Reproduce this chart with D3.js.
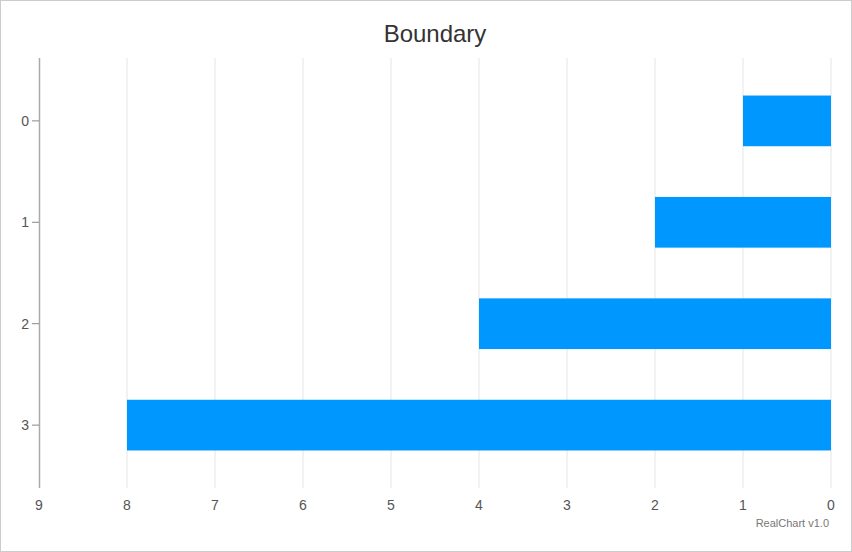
<!DOCTYPE html>
<html>
<head>
<meta charset="utf-8">
<script src="https://cdn.jsdelivr.net/npm/d3@7"></script>
<style>
  body { margin: 0; background: #fff; }
  svg { font-family: "Liberation Sans", Arial, sans-serif; }
</style>
</head>
<body>
<svg id="chart" width="852" height="552"></svg>
<script>
const categories = ["0", "1", "2", "3"];
const values = [1, 2, 4, 8];
const xTicks = [0, 1, 2, 3, 4, 5, 6, 7, 8, 9];

const svg = d3.select("#chart");
const margin = {top: 58, right: 21, bottom: 64, left: 39},
      width = 852 - margin.left - margin.right,
      height = 552 - margin.top - margin.bottom;

svg.append("rect")
    .attr("x", 0.5).attr("y", 0.5)
    .attr("width", 851).attr("height", 551)
    .attr("fill", "#fff").attr("stroke", "#ccc");

svg.append("text")
    .attr("x", 435).attr("y", 42)
    .attr("text-anchor", "middle")
    .attr("font-size", 24)
    .attr("fill", "#333")
    .text("Boundary");

const g = svg.append("g")
    .attr("transform", `translate(${margin.left},${margin.top})`);

// reversed value axis: 9 on the left, 0 on the right
let x = d3.scaleLinear().domain([9, 0]).range([0, width]);
let y = d3.scaleBand().domain(categories).range([0, height])
    .paddingInner(0.5).paddingOuter(0.37);

// grid
g.selectAll(".grid")
  .data(xTicks.filter(d => d !== 9))
  .enter().append("line")
    .attr("x1", d => x(d)).attr("x2", d => x(d))
    .attr("y1", 0).attr("y2", height)
    .attr("stroke", "#e5e5e5");

// bars
g.selectAll(".bar")
  .data(values)
  .enter().append("rect")
    .attr("x", d => x(d))
    .attr("y", (d, i) => y(categories[i]))
    .attr("width", d => x(0) - x(d))
    .attr("height", y.bandwidth())
    .attr("fill", "#0098ff");

// x axis labels
g.selectAll(".xl")
  .data(xTicks)
  .enter().append("text")
    .attr("x", d => x(d))
    .attr("y", height + 22)
    .attr("text-anchor", "middle")
    .attr("font-size", 14)
    .attr("fill", "#555")
    .text(d => d);

// y axis
g.append("line")
    .attr("x1", 0.5).attr("x2", 0.5)
    .attr("y1", 0).attr("y2", height)
    .attr("stroke", "#aaa").attr("stroke-width", 1.5);

const yAx = g.selectAll(".yt")
  .data(categories)
  .enter().append("g")
    .attr("transform", d => `translate(0,${y(d) + y.bandwidth() / 2})`);
yAx.append("line")
    .attr("x1", -7).attr("x2", 0)
    .attr("stroke", "#888");
yAx.append("text")
    .attr("x", -10).attr("dy", "0.35em")
    .attr("text-anchor", "end")
    .attr("font-size", 14)
    .attr("fill", "#555")
    .text(d => d);

svg.append("text")
    .attr("x", 829).attr("y", 527)
    .attr("text-anchor", "end")
    .attr("font-size", 11)
    .attr("fill", "#777")
    .text("RealChart v1.0");
</script>
</body>
</html>
